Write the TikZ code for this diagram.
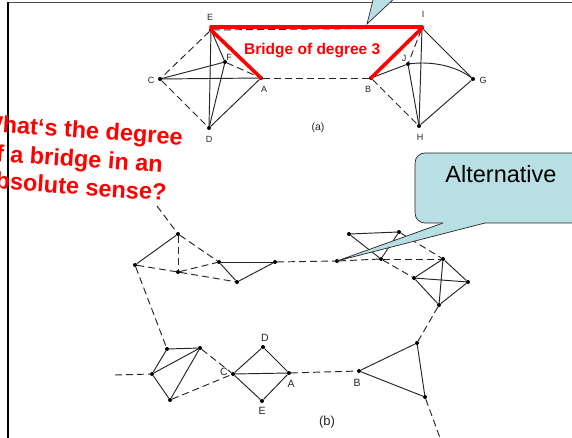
\documentclass[tikz,border=0pt]{standalone}
\usepackage{fontspec}
\setmainfont{Liberation Sans}
\definecolor{callcyan}{RGB}{184,223,227}
\begin{document}
\begin{tikzpicture}[x=1pt,y=-1pt,
  vtx/.style={circle, fill=black, inner sep=0pt, minimum size=4pt},
  edge/.style={line width=0.95pt, draw=black!85},
  dedge/.style={edge, dash pattern=on 7pt off 4pt},
  bridge/.style={line width=3.6pt, draw=red, line cap=round},
  lbla/.style={font=\fontsize{9}{10}\selectfont, text=black!85, inner sep=0pt},
  lblb/.style={font=\fontsize{10.5}{11}\selectfont, text=black!85, inner sep=0pt},
  redtxt/.style={font=\bfseries\fontsize{23.5}{28}\selectfont, text=red, inner sep=0pt, anchor=base west, rotate=-4},
  callout/.style={fill=callcyan, draw=black!85, line width=0.7pt}
]
\useasboundingbox (0,0) rectangle (572,438);
\clip (0,0) rectangle (572,438);

% frame
\draw[line width=1.5pt, draw=black!70] (7.5,2.5) -- (580,2.5);
\draw[line width=1.4pt, draw=black] (8,2) -- (8,440);

% ---------- graph (a) ----------
\node[vtx] (aE) at (211,30) {};
\node[vtx] (aF) at (225,62) {};
\node[vtx] (aC) at (160,79) {};
\node[vtx] (aA) at (261,78) {};
\node[vtx] (aD) at (209,128) {};
\node[vtx] (aI) at (422,28) {};
\node[vtx] (aJ) at (408,64) {};
\node[vtx] (aB) at (371,78) {};
\node[vtx] (aG) at (473,79) {};
\node[vtx] (aH) at (419,126) {};

\node[lbla] at (210,17) {E};
\node[lbla] at (229,57) {F};
\node[lbla] at (151,80) {C};
\node[lbla] at (264,89) {A};
\node[lbla] at (209,139) {D};
\node[lbla] at (423,14) {I};
\node[lbla] at (404,58) {J};
\node[lbla] at (368,89) {B};
\node[lbla] at (483,80) {G};
\node[lbla] at (420,137) {H};

\draw[dedge] (aE) -- (aC);
\draw[dedge] (aC) -- (aD);
\draw[edge] (aE) -- (aD);
\draw[edge] (aE) -- (aF);
\draw[dedge] (aF) -- (aA);
\draw[edge] (aC) -- (aF);
\draw[edge] (aC) -- (aA);
\draw[edge] (aD) -- (aA);
\draw[edge] (aD) -- (aF);
\draw[edge] (aE) -- (aA);
\draw[dedge] (aE) -- (aI);
\draw[dedge] (aA) -- (aB);
\draw[dedge] (aI) -- (aJ);
\draw[edge] (aI) -- (aH);
\draw[edge] (aI) -- (aG);
\draw[edge] (aB) -- (aJ);
\draw[edge] (aJ) .. controls (432,61) and (456,66) .. (aG);
\draw[edge] (aJ) -- (aH);
\draw[dedge] (aB) -- (aH);
\draw[edge] (aH) -- (aG);
\draw[edge] (aB) -- (aI);

% bridge in red
\draw[bridge] ([yshift=3pt]aE.center) -- ([yshift=1pt]aI.center);
\draw[bridge] (aE.center) -- (aA.center);
\draw[bridge] (aB.center) -- (aI.center);
\node[font=\bfseries\fontsize{15.5}{18}\selectfont, text=red, inner sep=0pt, anchor=base west] at (244,55) {Bridge of degree 3};

\node[font=\fontsize{10.5}{11}\selectfont, text=black!85, inner sep=0pt] (la) at (318,128) {(a)};

% ---------- graph (b) ----------
\coordinate (bP0) at (157,206);
\node[vtx] (bP1) at (178,234) {};
\node[vtx] (bP2) at (135,265) {};
\node[vtx] (bP3) at (178,272) {};
\node[vtx] (bP4) at (219,262) {};
\node[vtx] (bP5) at (237,282) {};
\node[vtx] (bP6) at (275,262) {};

\node[vtx] (bQ1) at (337,261) {};
\node[vtx] (bT1) at (349,234) {};
\node[vtx] (bT2) at (399,232) {};
\node[vtx] (bT3) at (381,259) {};
\node[vtx] (bK1) at (443,259) {};
\node[vtx] (bK2) at (414,278) {};
\node[vtx] (bK3) at (468,282) {};
\node[vtx] (bK4) at (439,305) {};

\coordinate (bL0) at (115,375);
\node[vtx] (bL1) at (167,349) {};
\node[vtx] (bL2) at (200,348) {};
\node[vtx] (bL3) at (152,374) {};
\node[vtx] (bL4) at (170,400) {};
\node[vtx] (bC) at (233,374) {};
\node[vtx] (bD) at (263,347) {};
\node[vtx] (bA) at (289,373) {};
\node[vtx] (bE) at (262,401) {};

\node[vtx] (bB) at (359,371) {};
\node[vtx] (bR1) at (417,343) {};
\node[vtx] (bR2) at (425,397) {};
\coordinate (bR0) at (443,446);

\node[lblb] at (224,372) {C};
\node[lblb] at (265,338) {D};
\node[lblb] at (291,384) {A};
\node[lblb] at (262,411) {E};
\node[lblb] at (357,383) {B};

\draw[dedge] (bP0) -- (bP1);
\draw[edge] (bP1) -- (bP2);
\draw[dedge] (bP1) -- (bP3);
\draw[dedge] (bP1) -- (bP4);
\draw[dedge] (bP2) -- (bP3);
\draw[dedge] (bP3) -- (bP4);
\draw[dedge] (bP3) -- (bP5);
\draw[edge] (bP4) -- (bP6);
\draw[edge] (bP4) -- (bP5);
\draw[edge] (bP5) -- (bP6);
\draw[dedge] (bP6) -- (bQ1);
\draw[dedge] (bP2) -- (bL1);

\draw[dedge] (bQ1) -- (bT3);
\draw[dedge] (bT3) -- (bK1);
\draw[edge] (bT1) -- (bT2);
\draw[edge] (bT1) -- (bT3);
\draw[edge] (bT2) -- (bT3);
\draw[dedge] (bT2) -- (bK1);
\draw[dedge] (bT3) -- (bK2);
\draw[edge] (bK1) -- (bK2);
\draw[edge] (bK1) -- (bK3);
\draw[edge] (bK1) -- (bK4);
\draw[edge] (bK2) -- (bK3);
\draw[edge] (bK2) -- (bK4);
\draw[edge] (bK3) -- (bK4);
\draw[dedge] (bK4) -- (bR1);

\draw[dedge] (bL0) -- (bL3);
\draw[edge] (bL1) -- (bL2);
\draw[edge] (bL1) -- (bL3);
\draw[edge] (bL3) -- (bL2);
\draw[edge] (bL3) -- (bL4);
\draw[edge] (bL4) -- (bL2);
\draw[dedge] (bL2) -- (bC);
\draw[dedge] (bL4) -- (bC);
\draw[edge] (bC) -- (bD);
\draw[edge] (bD) -- (bA);
\draw[edge] (bC) -- (bA);
\draw[edge] (bC) -- (bE);
\draw[edge] (bE) -- (bA);
\draw[dedge] (bA) -- (bB);
\draw[edge] (bB) -- (bR1);
\draw[edge] (bB) -- (bR2);
\draw[edge] (bR1) -- (bR2);
\draw[dedge] (bR2) -- (bR0);

\node[font=\fontsize{13}{14}\selectfont, text=black!85, inner sep=0pt] (lb) at (327,422) {(b)};

% ---------- red question ----------
\node[redtxt] (q1) at (-20,131) {What‘s the degree};
\node[redtxt] (q2) at (-19,160) {of a bridge in an};
\node[redtxt] (q3) at (-18,188) {absolute sense?};

% ---------- callouts ----------
\draw[callout, rounded corners=10pt] (415,153) rectangle (600,223);
\fill[callcyan] (443,221.5) -- (443,223) -- (bQ1.center) -- (485,223) -- (485,221.5) -- cycle;
\draw[draw=black!85, line width=0.7pt] (443,223) -- (bQ1.center) -- (485,223);
\node[font=\fontsize{23.5}{28}\selectfont, inner sep=0pt, anchor=base] (alt) at (501,183) {Alternative};

\coordinate (tip) at (367,24);
\fill[callcyan] (374,-4) -- (tip) -- (397,-4) -- cycle;
\draw[draw=black!85, line width=0.7pt] (374,-4) -- (tip) -- (397,-4);
\end{tikzpicture}
\end{document}
